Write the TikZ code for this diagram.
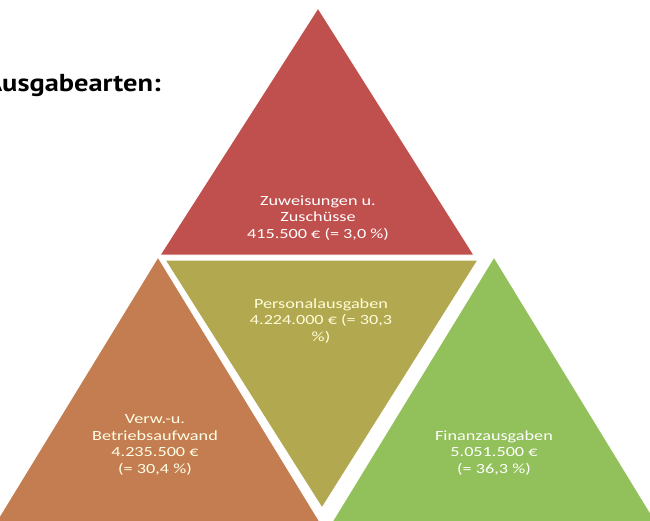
\documentclass[tikz,border=0pt]{standalone}
\usepackage{fontspec}
\setmainfont{Carlito}
\newfontfamily\titlefont[FakeStretch=1.16]{PT Sans}
\newfontfamily\lblfont[FakeStretch=1.3]{Carlito}
\definecolor{tred}{HTML}{C0504D}
\definecolor{tbrown}{HTML}{C47D50}
\definecolor{tolive}{HTML}{B2A850}
\definecolor{tgreen}{HTML}{92C05A}
\begin{document}
\begin{tikzpicture}[x=1pt,y=-1pt,
  lbl/.style={text=white, font=\lblfont\fontsize{14}{16.5}\selectfont, align=center, inner sep=0pt},
  tri/.style={draw=white, line width=1pt, line join=miter}]
\useasboundingbox (0,0) rectangle (650,520);
\clip (0,0) rectangle (650,520);
% triangles
\filldraw[tri, fill=tbrown] (158,257) -- (-4,522) -- (320,522) -- cycle;
\filldraw[tri, fill=tgreen] (494,257) -- (332,522) -- (656,522) -- cycle;
\filldraw[tri, fill=tred] (318,8) -- (160,255) -- (474,255) -- cycle;
\filldraw[tri, fill=tolive] (165,260) -- (478,260) -- (322,508) -- cycle;
% title
\node[font=\titlefont\bfseries\fontsize{24.5}{28}\selectfont, anchor=base east, inner sep=0pt] (title) at (161,91) {Ausgabearten:};
% labels
\node[lbl] (zuw) at (318,218) {Zuweisungen u.\\Zuschüsse\\415.500 € (= 3,0 \%)};
\node[lbl, text=white!85!yellow] (pers) at (321,321) {Personalausgaben\\4.224.000 € (= 30,3\\\%)};
\node[lbl, text=white!90!yellow] (verw) at (155,445) {Verw.-u.\\Betriebsaufwand\\4.235.500 €\\(= 30,4 \%)};
\node[lbl] (fin) at (494,453) {Finanzausgaben\\5.051.500 €\\(= 36,3 \%)};
\end{tikzpicture}
\end{document}
